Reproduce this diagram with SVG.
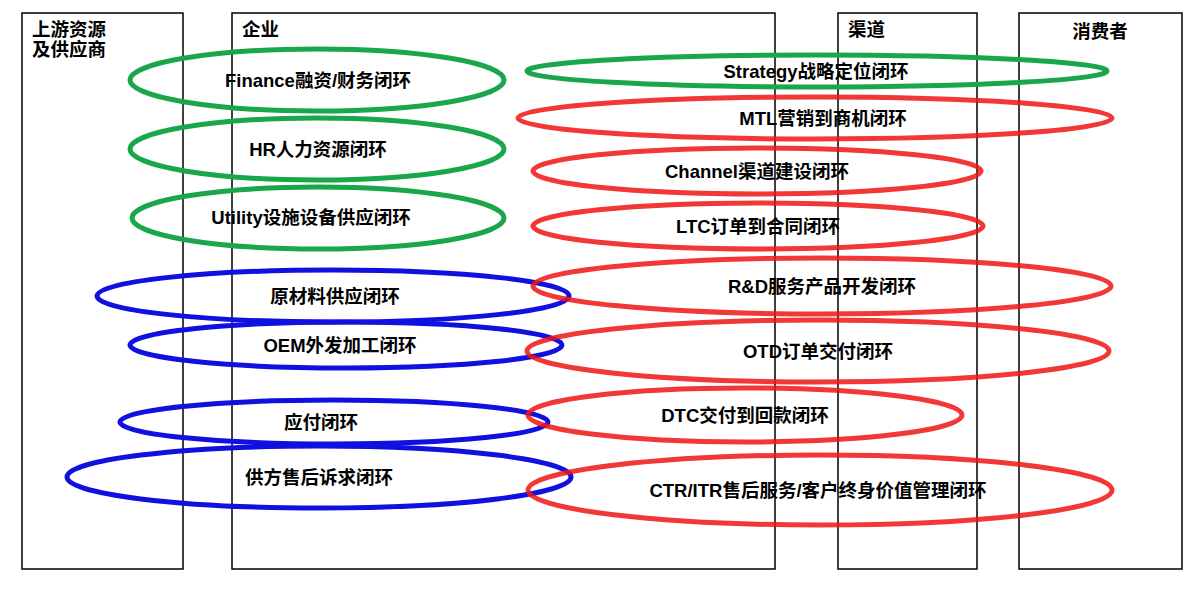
<svg xmlns="http://www.w3.org/2000/svg" width="1200" height="594" viewBox="0 0 1200 594">
<style>
.box{fill:none;stroke:#000;stroke-width:1.5}
.e{fill:none;stroke-width:5}
.g{stroke:#1aa64a}.r{stroke:#f01414;stroke-opacity:0.85}.b{stroke:#1010e0}
text{font-family:"Liberation Sans","Noto Sans CJK SC",sans-serif;font-weight:bold;font-size:18.5px;text-anchor:middle;fill:#000}
.h{text-anchor:start}
</style>
<rect width="1200" height="594" fill="#fff"/>
<g id="columns">
<rect class="box" x="22" y="13" width="161" height="556"/>
<rect class="box" x="232" y="13" width="543" height="556" stroke-width="2.5"/>
<rect class="box" x="838" y="13" width="139" height="556"/>
<rect class="box" x="1019" y="13" width="163" height="556"/>
<text class="h" x="32" y="36">上游资源</text>
<text class="h" x="32" y="56">及供应商</text>
<text class="h" x="242" y="36">企业</text>
<text class="h" x="848" y="36">渠道</text>
<text x="1100" y="38">消费者</text>
</g>
<g id="blue">
<ellipse class="e b" cx="333" cy="296" rx="236" ry="26"/><text x="335" y="303">原材料供应闭环</text>
<ellipse class="e b" cx="346" cy="345" rx="216" ry="23"/><text x="340" y="352">OEM外发加工闭环</text>
<ellipse class="e b" cx="334" cy="422" rx="214" ry="22"/><text x="321" y="429">应付闭环</text>
<ellipse class="e b" cx="319" cy="477" rx="252" ry="31"/><text x="319" y="484">供方售后诉求闭环</text>
</g>
<g id="green">
<ellipse class="e g" cx="317" cy="80" rx="187" ry="31"/><text x="318" y="87">Finance融资/财务闭环</text>
<ellipse class="e g" cx="317" cy="149" rx="187" ry="31"/><text x="318" y="156">HR人力资源闭环</text>
<ellipse class="e g" cx="318" cy="218" rx="186" ry="31"/><text x="311" y="224">Utility设施设备供应闭环</text>
<ellipse class="e g" cx="817" cy="71" rx="290" ry="16"/><text x="816" y="78">Strategy战略定位闭环</text>
</g>
<g id="red">
<ellipse class="e r" cx="815" cy="118" rx="297" ry="21"/><text x="823" y="125">MTL营销到商机闭环</text>
<ellipse class="e r" cx="757" cy="171" rx="224" ry="23"/><text x="757" y="178">Channel渠道建设闭环</text>
<ellipse class="e r" cx="758" cy="226" rx="225" ry="23"/><text x="758" y="233">LTC订单到合同闭环</text>
<ellipse class="e r" cx="822" cy="286" rx="289" ry="28"/><text x="822" y="293">R&amp;D服务产品开发闭环</text>
<ellipse class="e r" cx="818" cy="351" rx="291" ry="31"/><text x="818" y="358">OTD订单交付闭环</text>
<ellipse class="e r" cx="745" cy="415" rx="217" ry="27"/><text x="745" y="422">DTC交付到回款闭环</text>
<ellipse class="e r" cx="820" cy="490" rx="292" ry="35"/><text x="818" y="497">CTR/ITR售后服务/客户终身价值管理闭环</text>
</g>
<g id="connectors"></g>
</svg>
